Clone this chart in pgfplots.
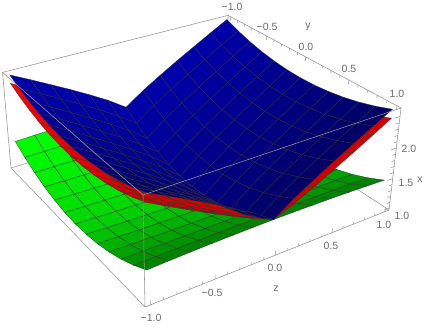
\documentclass[border=0pt]{standalone}
\usepackage{fontspec}
\setmainfont{Liberation Sans}
\usepackage{pgfplots}
\usepackage{pgfplotstable}
\pgfplotsset{compat=1.18}
\tikzset{declare function={
 al(\p)=(1.04-\p)/2.08;
 be(\p)=(\p+1.04)/2.08;
 ga(\p)=(\p-0.968)/1.664;
 WW(\p,\q,\r)=1+0.25*al(\p)+0.15*be(\q)-0.0613*ga(\r);
 PU(\p,\q,\r)=(145-131.25*al(\p)+302.35*be(\q)-10.76*ga(\r))/WW(\p,\q,\r);
 PV(\p,\q,\r)=327-(307-97*al(\p)-65.5*be(\q)-123.95*ga(\r))/WW(\p,\q,\r);
}}
\pgfplotsset{
 colormap={cgreen}{rgb255=(0,125,0) rgb255=(0,215,0) rgb255=(0,255,0)},
 colormap={cred}{rgb255=(205,0,0) rgb255=(255,0,0)},
 colormap={cblue}{rgb255=(0,0,100) rgb255=(0,0,170)},
}
% a=|y|, b=|z|; g, r, u = x of the green, red and blue sheets
\pgfplotstableread{
a b g r u
0 0 1 1 1
0 .1667 1.001 1.158 1.259
0 .3333 1.004 1.34 1.484
0 .5 1.01 1.532 1.697
0 .6667 1.018 1.73 1.902
0 .8333 1.028 1.933 2.104
0 1 1.04 2.14 2.3
.1667 0 1.014 1.014 1.014
.1667 .1667 1.015 1.172 1.272
.1667 .3333 1.018 1.352 1.496
.1667 .5 1.023 1.544 1.708
.1667 .6667 1.031 1.74 1.912
.1667 .8333 1.04 1.942 2.113
.1667 1 1.052 2.149 2.308
.3333 0 1.056 1.056 1.056
.3333 .1667 1.056 1.212 1.311
.3333 .3333 1.059 1.39 1.531
.3333 .5 1.063 1.579 1.741
.3333 .6667 1.069 1.773 1.943
.3333 .8333 1.077 1.972 2.141
.3333 1 1.087 2.176 2.334
.5 0 1.125 1.125 1.125
.5 .1667 1.126 1.277 1.374
.5 .3333 1.127 1.451 1.59
.5 .5 1.13 1.636 1.795
.5 .6667 1.134 1.826 1.993
.5 .8333 1.139 2.021 2.186
.5 1 1.145 2.22 2.375
.6667 0 1.222 1.222 1.222
.6667 .1667 1.222 1.369 1.463
.6667 .3333 1.223 1.538 1.673
.6667 .5 1.223 1.717 1.871
.6667 .6667 1.224 1.9 2.063
.6667 .8333 1.225 2.089 2.25
.6667 1 1.227 2.282 2.433
.8333 0 1.347 1.347 1.347
.8333 .1667 1.347 1.488 1.579
.8333 .3333 1.345 1.649 1.779
.8333 .5 1.343 1.821 1.969
.8333 .6667 1.34 1.997 2.153
.8333 .8333 1.336 2.177 2.333
.8333 1 1.332 2.362 2.508
1 0 1.5 1.5 1.5
1 .1667 1.499 1.633 1.719
1 .3333 1.495 1.786 1.909
1 .5 1.49 1.948 2.09
1 .6667 1.482 2.114 2.263
1 .8333 1.472 2.285 2.434
1 1 1.46 2.46 2.6
}\surfdata
\pgfplotstableread{
y z h
1.04 1.04 .968
-1.04 1.04 .968
nan nan nan
-1.04 -1.04 .968
-1.04 1.04 .968
nan nan nan
-1.04 1.04 .968
-1.04 1.04 2.632
}\backedges
\pgfplotstableread{
y z h
-1.04 -1.04 .968
-1.04 -1.04 2.632
1.04 -1.04 2.632
1.04 1.04 2.632
-1.04 1.04 2.632
-1.04 -1.04 2.632
nan nan nan
-1.04 -1.04 .968
1.04 -1.04 .968
1.04 1.04 .968
1.04 1.04 2.632
nan nan nan
1.04 -1.04 .968
1.04 -1.04 2.632
}\frontedges
\pgfplotstableread{
t l d
-1 0 0
-1 1 0
nan nan 0
-.9 0 0
-.9 .6 0
nan nan 0
-.8 0 0
-.8 .6 0
nan nan 0
-.7 0 0
-.7 .6 0
nan nan 0
-.6 0 0
-.6 .6 0
nan nan 0
-.5 0 0
-.5 1 0
nan nan 0
-.4 0 0
-.4 .6 0
nan nan 0
-.3 0 0
-.3 .6 0
nan nan 0
-.2 0 0
-.2 .6 0
nan nan 0
-.1 0 0
-.1 .6 0
nan nan 0
0 0 0
0 1 0
nan nan 0
.1 0 0
.1 .6 0
nan nan 0
.2 0 0
.2 .6 0
nan nan 0
.3 0 0
.3 .6 0
nan nan 0
.4 0 0
.4 .6 0
nan nan 0
.5 0 0
.5 1 0
nan nan 0
.6 0 0
.6 .6 0
nan nan 0
.7 0 0
.7 .6 0
nan nan 0
.8 0 0
.8 .6 0
nan nan 0
.9 0 0
.9 .6 0
nan nan 0
1 0 0
1 1 0
}\ticksyz
\pgfplotstableread{
t l d
1 0 0
1 1 0
nan nan 0
1.1 0 0
1.1 .6 0
nan nan 0
1.2 0 0
1.2 .6 0
nan nan 0
1.3 0 0
1.3 .6 0
nan nan 0
1.4 0 0
1.4 .6 0
nan nan 0
1.5 0 0
1.5 1 0
nan nan 0
1.6 0 0
1.6 .6 0
nan nan 0
1.7 0 0
1.7 .6 0
nan nan 0
1.8 0 0
1.8 .6 0
nan nan 0
1.9 0 0
1.9 .6 0
nan nan 0
2 0 0
2 1 0
nan nan 0
2.1 0 0
2.1 .6 0
nan nan 0
2.2 0 0
2.2 .6 0
nan nan 0
2.3 0 0
2.3 .6 0
nan nan 0
2.4 0 0
2.4 .6 0
nan nan 0
2.5 0 0
2.5 1 0
}\ticksx
\newcommand\sheet[2]{% colormap, column; far z first
 \foreach \sy/\sz in {-1/1,1/1,-1/-1,1/-1}{
 \edef\tmp{\noexpand\addplot3[surf,shader=faceted,colormap name=#1,faceted color=black!80,
   line width=0.4pt,draw opacity=0.8,z buffer=sort,mesh/rows=7,mesh/cols=7,
   point meta={(1-(\sy)*\noexpand\thisrow{a})/2}]
  table[x expr={PU((\sy)*\noexpand\thisrow{a},(\sz)*\noexpand\thisrow{b},\noexpand\thisrow{#2})},
        y expr={PV((\sy)*\noexpand\thisrow{a},(\sz)*\noexpand\thisrow{b},\noexpand\thisrow{#2})},
        z expr={-WW((\sy)*\noexpand\thisrow{a},(\sz)*\noexpand\thisrow{b},\noexpand\thisrow{#2})}]
  {\noexpand\surfdata};}\tmp}}
\tikzset{lbl/.style={font=\fontsize{10.5}{12}\selectfont,text=black!58,inner sep=0pt,anchor=center}}
\begin{document}
\begin{tikzpicture}
\path[use as bounding box] (0,0) rectangle (425pt,327pt);
\begin{axis}[at={(0,0)},anchor=south west,scale only axis,width=425pt,height=327pt,
  view={0}{90},hide axis,clip=false,xmin=0,xmax=425,ymin=0,ymax=327,zmin=-2,zmax=0,
  point meta min=0,point meta max=1,unbounded coords=jump,
  boxl/.style={no marks,black!42,line width=0.55pt}]
\addplot3[boxl] table[x expr={PU(\thisrow{y},\thisrow{z},\thisrow{h})},y expr={PV(\thisrow{y},\thisrow{z},\thisrow{h})},z expr=0] {\backedges};
\sheet{cgreen}{g}
\sheet{cred}{r}
\sheet{cblue}{u}
\addplot3[boxl] table[x expr={PU(\thisrow{y},\thisrow{z},\thisrow{h})},y expr={PV(\thisrow{y},\thisrow{z},\thisrow{h})},z expr=0] {\frontedges};
\addplot3[boxl] table[x expr={PU(\thisrow{t},1.04,2.632-0.07*\thisrow{l})},y expr={PV(\thisrow{t},1.04,2.632-0.07*\thisrow{l})},z expr=0] {\ticksyz};
\addplot3[boxl] table[x expr={PU(1.04,\thisrow{t},0.968+0.07*\thisrow{l})},y expr={PV(1.04,\thisrow{t},0.968+0.07*\thisrow{l})},z expr=0] {\ticksyz};
\addplot3[boxl] table[x expr={PU(1.04,1.04-0.05*\thisrow{l},\thisrow{t})},y expr={PV(1.04,1.04-0.05*\thisrow{l},\thisrow{t})},z expr=0] {\ticksx};
\node[lbl] at (axis cs:151,9,0) {−1.0};
\node[lbl] at (axis cs:212,34,0) {−0.5};
\node[lbl] at (axis cs:275,59,0) {0.0};
\node[lbl] at (axis cs:331,81,0) {0.5};
\node[lbl] at (axis cs:384,102,0) {1.0};
\node[lbl] at (axis cs:276,38,0) {z};
\node[lbl] at (axis cs:232,320,0) {−1.0};
\node[lbl] at (axis cs:267,300,0) {−0.5};
\node[lbl] at (axis cs:306,280,0) {0.0};
\node[lbl] at (axis cs:349,258,0) {0.5};
\node[lbl] at (axis cs:397,233,0) {1.0};
\node[lbl] at (axis cs:308,300,0) {y};
\node[lbl] at (axis cs:402,111,0) {1.0};
\node[lbl] at (axis cs:406,144,0) {1.5};
\node[lbl] at (axis cs:409,178,0) {2.0};
\node[lbl] at (axis cs:420,147,0) {x};
\end{axis}
\end{tikzpicture}
\end{document}
